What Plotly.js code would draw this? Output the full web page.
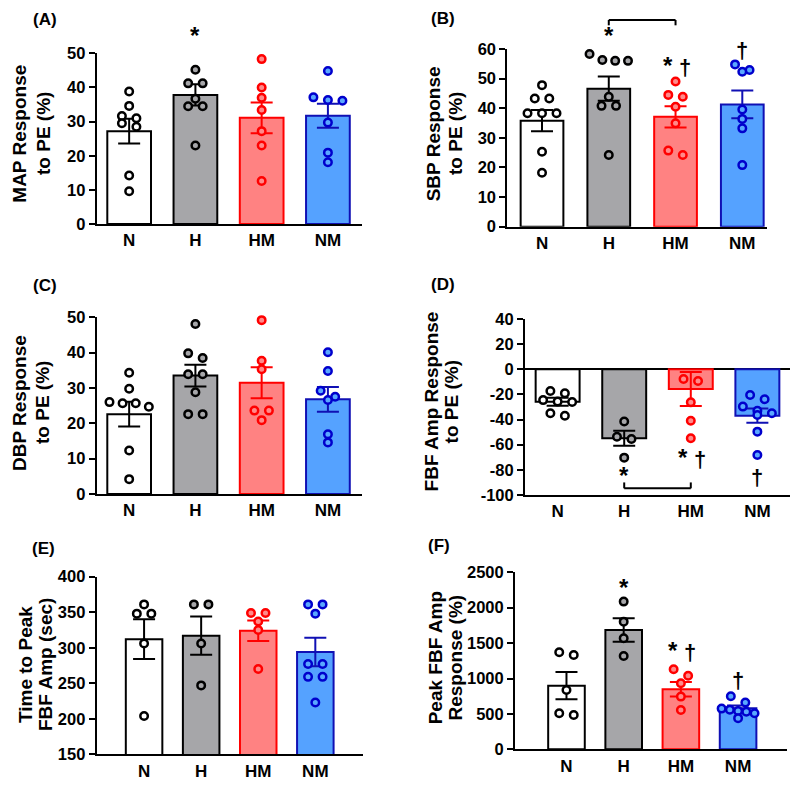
<!DOCTYPE html>
<html><head><meta charset="utf-8">
<script src="https://cdn.plot.ly/plotly-3.0.1.min.js"></script>
<style>body{margin:0;background:#fff}#chart{width:800px;height:788px}</style>
</head><body><div id="chart"></div>
<script>
// ---------- DATA ----------
const groups = ['N', 'H', 'HM', 'NM'];

// (A) MAP response to PE (%)
const mapN  = [38.8, 34.6, 31.6, 31.0, 29.5, 28.5, 14.2, 9.6];
const mapH  = [51.0, 45.2, 41.2, 41.2, 36.7, 34.5, 34.5, 23.0];
const mapHM = [48.3, 40.0, 37.0, 33.4, 27.2, 23.0, 12.6];
const mapNM = [44.8, 37.1, 36.3, 36.1, 29.7, 20.9, 18.1];
const mapMean = [27.2, 37.8, 31.1, 31.7];
const mapSem  = [3.6, 3.1, 4.5, 3.5];

// (B) SBP response to PE (%)
const sbpN  = [47.8, 43.3, 43.3, 38.3, 38.3, 38.3, 25.3, 18.2];
const sbpH  = [58.3, 56.3, 56.0, 56.0, 43.9, 40.8, 40.8, 24.2];
const sbpHM = [49.0, 44.5, 43.9, 40.5, 34.9, 25.7, 24.2];
const sbpNM = [54.8, 52.9, 52.3, 39.6, 36.4, 33.2, 20.8];
const sbpMean = [35.8, 46.6, 37.1, 41.3];
const sbpSem  = [3.6, 4.1, 3.6, 4.7];

// (C) DBP response to PE (%)
const dbpN  = [34.3, 29.8, 26.0, 25.7, 25.7, 24.7, 12.3, 4.2];
const dbpH  = [48.1, 39.8, 38.5, 33.9, 33.9, 28.8, 22.6, 22.6];
const dbpHM = [49.2, 37.7, 35.3, 23.6, 23.6, 20.9];
const dbpNM = [40.1, 34.8, 29.2, 27.5, 26.6, 16.9, 14.6];
const dbpMean = [22.6, 33.5, 31.5, 26.8];
const dbpSem  = [3.5, 3.1, 4.4, 3.5];

// (D) FBF Amp response to PE (%)
const fbfN  = [-17.3, -19.1, -24.5, -25.7, -26.0, -35.0, -36.9];
const fbfH  = [-41.5, -53.6, -55.5, -70.3];
const fbfHM = [41.3, -7.7, -9.3, -26.3, -40.9, -54.9];
const fbfNM = [-20.4, -23.9, -29.7, -33.0, -35.0, -36.4, -49.6, -68.2];
const fbfMean = [-25.8, -54.9, -15.7, -36.9];
const fbfSem  = [3.2, 6.0, 13.5, 5.7];

// (E) Time to peak FBF Amp (sec)
const ttpN  = [361, 348, 348, 306, 204];
const ttpH  = [361, 361, 306, 247];
const ttpHM = [349, 349, 337, 325, 270];
const ttpNM = [361, 361, 348, 277, 277, 259, 259, 223];
const ttpMean = [312, 317, 324, 294];
const ttpSem  = [28, 27, 14.5, 20];

// (F) Peak FBF Amp response (%)
const pkN  = [1370, 1332, 838, 508, 485];
const pkH  = [2086, 1803, 1568, 1318];
const pkHM = [1130, 1040, 932, 744, 556];
const pkNM = [750, 660, 575, 560, 540, 530, 510, 440];
const pkMean = [899, 1685, 847, 579];
const pkSem  = [193, 165, 102, 38];

// ---------- STYLE ----------
const W = 800, H = 788;
const FONT = 'Liberation Sans, Arial, Helvetica, sans-serif';
const barFill  = ['#ffffff', '#a6a6a9', '#ff8282', '#55a2ff'];
const barLine  = ['#000000', '#000000', '#ff0000', '#1010b4'];
const ptFill   = ['#ffffff', '#a6a6a9', '#ff8a8a', '#5aa8ff'];
const ptLine   = ['#000000', '#000000', '#ff0000', '#0000cc'];

const panels = [
  {lab:'(A)', title:['MAP Response','to PE (%)'], pts:[mapN,mapH,mapHM,mapNM], mean:mapMean, sem:mapSem,
   xd:[96.7,361.7], yd:[53.3,224], yr:[0,50], dtick:10, xr:[-0.49,3.51], bw:0.66, labPos:[44.7,19],
   tx:[20,43.3], ty:133.7},
  {lab:'(B)', title:['SBP Response','to PE (%)'], pts:[sbpN,sbpH,sbpHM,sbpNM], mean:sbpMean, sem:sbpSem,
   xd:[507.3,767], yd:[49,226.7], yr:[0,60], dtick:10, xr:[-0.52,3.37], bw:0.64, labPos:[442.5,18],
   tx:[433.3,455], ty:134},
  {lab:'(C)', title:['DBP Response','to PE (%)'], pts:[dbpN,dbpH,dbpHM,dbpNM], mean:dbpMean, sem:dbpSem,
   xd:[96.7,361.7], yd:[317.3,494], yr:[0,50], dtick:10, xr:[-0.49,3.51], bw:0.66, labPos:[44.5,285],
   tx:[20,43], ty:403},
  {lab:'(D)', title:['FBF Amp Response','to PE (%)'], pts:[fbfN,fbfH,fbfHM,fbfNM], mean:fbfMean, sem:fbfSem,
   xd:[525,790], yd:[319,495], yr:[-100,40], dtick:20, xr:[-0.49,3.49], bw:0.66, labPos:[443.5,284.5], zero:true,
   tx:[431.7,451.7], ty:401.7},
  {lab:'(E)', title:['Time to Peak','FBF Amp (sec)'], pts:[ttpN,ttpH,ttpHM,ttpNM], mean:ttpMean, sem:ttpSem,
   xd:[96.7,362.7], yd:[576.7,754.3], yr:[150,400], dtick:50, xr:[-0.83,3.83], bw:0.64, labPos:[43.5,548],
   tx:[25,45], ty:665},
  {lab:'(F)', title:['Peak FBF Amp','Response (%)'], pts:[pkN,pkH,pkHM,pkNM], mean:pkMean, sem:pkSem,
   xd:[515,786.7], yd:[572.3,749.3], yr:[0,2500], dtick:500, xr:[-0.9,3.85], bw:0.64, labPos:[438.5,545.5],
   tx:[435.8,455], ty:657.5}
];

// significance marks: [panelIndex, groupIndex, value, text]
const sigMarks = [
  [0, 1, 55.9, '*'],
  [1, 1, 65.3, '*'], [1, 2, 55.2, '* †'], [1, 3, 60.8, '†'],
  [3, 1, -82.8, '*'], [3, 2, -68.2, '* †'], [3, 3, -82.8, '†'],
  [5, 1, 2312, '*'], [5, 2, 1427, '* †'], [5, 3, 1026, '†']
];
// brackets: [panelIndex, fromGroup, toGroup, barValue, tipValue]
const brackets = [
  [1, 1, 2, 69.8, 68.0],
  [3, 1, 2, -94.7, -90.0]
];

// ---------- HELPERS ----------
function toPaper(p, cx, v) {
  const xpx = p.xd[0] + (cx - p.xr[0]) / (p.xr[1] - p.xr[0]) * (p.xd[1] - p.xd[0]);
  const ypx = p.yd[1] - (v - p.yr[0]) / (p.yr[1] - p.yr[0]) * (p.yd[1] - p.yd[0]);
  return [xpx / W, 1 - ypx / H];
}
// GraphPad-like scatter: bin by height, centre each bin horizontally
function swarm(vals, p) {
  const pxU = (p.yd[1] - p.yd[0]) / (p.yr[1] - p.yr[0]);
  const pxC = (p.xd[1] - p.xd[0]) / (p.xr[1] - p.xr[0]);
  const binH = 7, sp = 14.5, maxW = p.bw * pxC * 0.9;
  const items = vals.map((v, i) => ({v, i, y: v * pxU})).sort((a, b) => b.y - a.y);
  const rows = [];
  items.forEach(it => {
    const last = rows[rows.length - 1];
    if (last && (last[0].y - it.y) < binH) last.push(it); else rows.push([it]);
  });
  const offs = new Array(vals.length).fill(0);
  rows.forEach(row => {
    const n = row.length;
    const s = n > 1 ? Math.min(sp, maxW / (n - 1)) : 0;
    row.forEach((it, j) => { offs[it.i] = ((j - (n - 1) / 2) * s) / pxC; });
  });
  return offs;
}
function tickList(p) {
  const v = [];
  for (let t = p.yr[0]; t <= p.yr[1] + 1e-9; t += p.dtick) v.push(t);
  return v;
}

// ---------- BUILD ----------
const traces = [];
const layout = {
  width: W, height: H, margin: {l: 0, r: 0, t: 0, b: 0},
  paper_bgcolor: '#fff', plot_bgcolor: 'rgba(0,0,0,0)',
  showlegend: false, barmode: 'overlay',
  font: {family: FONT, color: '#000', size: 16, weight: 'bold'},
  annotations: [], shapes: []
};

panels.forEach((p, k) => {
  const n = k === 0 ? '' : String(k + 1);
  const xa = 'x' + n, ya = 'y' + n;
  const tv = tickList(p);
  layout['xaxis' + n] = {
    domain: [p.xd[0] / W, p.xd[1] / W], range: p.xr, anchor: ya,
    type: 'linear', tickmode: 'array', tickvals: [0, 1, 2, 3], ticktext: groups,
    showline: true, linecolor: '#000', linewidth: 2, ticks: '', showgrid: false, zeroline: false,
    tickfont: {family: FONT, size: 17, color: '#000', weight: 'bold'}, fixedrange: true
  };
  layout['yaxis' + n] = {
    domain: [1 - p.yd[1] / H, 1 - p.yd[0] / H], range: p.yr, anchor: xa,
    tickmode: 'array', tickvals: tv, ticktext: tv.map(t => String(t)),
    showline: true, linecolor: '#000', linewidth: 2, ticks: 'outside', ticklen: 6, tickwidth: 2, tickcolor: '#000',
    showgrid: false, zeroline: !!p.zero, zerolinecolor: '#000', zerolinewidth: 2,
    tickfont: {family: FONT, size: 16.5, color: '#000', weight: 'bold'},
    fixedrange: true
  };
  groups.forEach((g, gi) => {
    traces.push({
      type: 'bar', x: [gi], y: [p.mean[gi]], xaxis: xa, yaxis: ya, width: p.bw,
      marker: {color: barFill[gi], line: {color: barLine[gi], width: 2}},
      error_y: {type: 'data', array: [p.sem[gi]], visible: true, color: barLine[gi], thickness: 2, width: 11},
      hoverinfo: 'skip'
    });
  });
  groups.forEach((g, gi) => {
    const vals = p.pts[gi];
    const offs = swarm(vals, p);
    traces.push({
      type: 'scatter', mode: 'markers', xaxis: xa, yaxis: ya, cliponaxis: false,
      x: vals.map((v, i) => gi + offs[i]), y: vals,
      marker: {symbol: 'circle', size: 7.5, color: ptFill[gi], line: {color: ptLine[gi], width: 2.5}},
      hoverinfo: 'skip'
    });
  });
  layout.annotations.push({
    xref: 'paper', yref: 'paper', x: p.labPos[0] / W, y: 1 - p.labPos[1] / H,
    xanchor: 'center', yanchor: 'middle', showarrow: false, text: p.lab,
    font: {family: FONT, size: 17, color: '#000', weight: 'bold'}
  });
  p.title.forEach((t, li) => {
    layout.annotations.push({
      xref: 'paper', yref: 'paper', x: p.tx[li] / W, y: 1 - p.ty / H,
      xanchor: 'center', yanchor: 'middle', showarrow: false, textangle: -90, text: t,
      font: {family: FONT, size: 19, color: '#000', weight: 'bold'}
    });
  });
});

sigMarks.forEach(([pi, gi, v, t]) => {
  const [px, py] = toPaper(panels[pi], gi, v);
  const parts = t === '* †' ? [['*', -8], ['†', 9]] : [[t, 0]];
  parts.forEach(([s, dx]) => {
    layout.annotations.push({
      xref: 'paper', yref: 'paper', x: px, y: py, xanchor: 'center', yanchor: 'middle',
      xshift: dx, yshift: s === '*' ? -2 : -4,
      showarrow: false, text: s, font: {family: FONT, size: s === '*' ? 24 : 22, color: '#000', weight: 'bold'}
    });
  });
});

brackets.forEach(([pi, g1, g2, yb, yt]) => {
  const p = panels[pi];
  const [x1, y1] = toPaper(p, g1, yb);
  const [x2, y2] = toPaper(p, g2, yt);
  const ln = {color: '#000', width: 2};
  layout.shapes.push({type: 'line', xref: 'paper', yref: 'paper', x0: x1, x1: x2, y0: y1, y1: y1, line: ln});
  layout.shapes.push({type: 'line', xref: 'paper', yref: 'paper', x0: x1, x1: x1, y0: y1, y1: y2, line: ln});
  layout.shapes.push({type: 'line', xref: 'paper', yref: 'paper', x0: x2, x1: x2, y0: y1, y1: y2, line: ln});
});

Plotly.newPlot('chart', traces, layout, {staticPlot: true});
</script>
</body></html>
